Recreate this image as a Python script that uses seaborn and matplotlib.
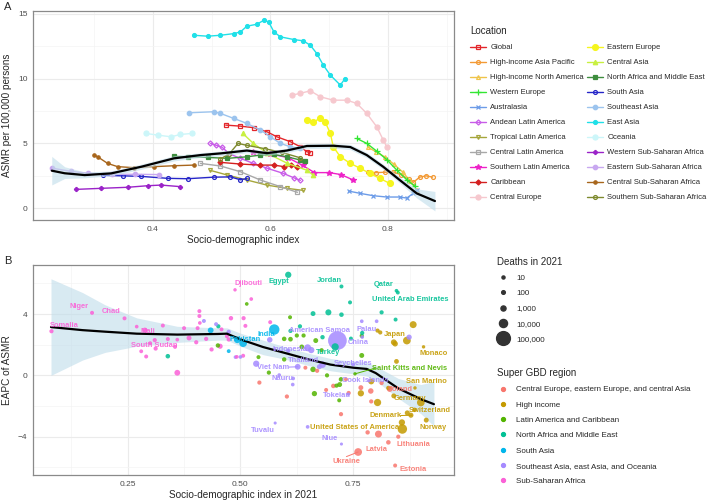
import numpy as np
import pandas as pd
import matplotlib
matplotlib.use("Agg")
import matplotlib.pyplot as plt
from matplotlib.lines import Line2D
import seaborn as sns

# ---------------- Panel A: SDI vs ASMR trajectories (1990-2021) ----------------
global_sdi = [0.524, 0.549, 0.572, 0.594, 0.611, 0.634, 0.651, 0.662, 0.668]
global_asmr = [6.41, 6.33, 6.21, 5.90, 5.51, 5.13, 4.74, 4.36, 4.28]
hiap_sdi = [0.766, 0.78, 0.795, 0.808, 0.822, 0.835, 0.843, 0.854, 0.865, 0.876]
hiap_asmr = [2.77, 2.75, 2.78, 2.80, 2.6, 2.25, 2.0, 2.4, 2.5, 2.4]
hina_sdi = [0.766, 0.78, 0.795, 0.81, 0.825, 0.838, 0.849]
hina_asmr = [4.7, 4.35, 3.95, 3.4, 2.8, 2.1, 1.4]
weur_sdi = [0.747, 0.764, 0.781, 0.798, 0.815, 0.832, 0.846]
weur_asmr = [5.38, 5.0, 4.4, 3.75, 2.95, 2.2, 1.7]
aus_sdi = [0.733, 0.753, 0.775, 0.798, 0.82, 0.832, 0.843, 0.849]
aus_asmr = [1.33, 1.15, 0.97, 0.87, 0.87, 0.79, 1.15, 1.4]
andean_sdi = [0.498, 0.508, 0.518, 0.53, 0.549, 0.571, 0.595, 0.622, 0.64, 0.651]
andean_asmr = [5.0, 4.85, 4.7, 4.2, 3.85, 3.46, 3.08, 2.69, 2.35, 2.15]
troplat_sdi = [0.498, 0.527, 0.56, 0.594, 0.628, 0.656]
troplat_asmr = [2.92, 2.56, 2.18, 1.79, 1.54, 1.38]
centlat_sdi = [0.481, 0.515, 0.549, 0.583, 0.617, 0.646]
centlat_asmr = [3.46, 3.26, 2.82, 2.18, 1.67, 1.23]
southlat_sdi = [0.57, 0.60, 0.63, 0.655, 0.675, 0.70, 0.72, 0.74]
southlat_asmr = [4.3, 4.2, 3.9, 3.3, 2.75, 2.75, 2.6, 2.2]
carib_sdi = [0.515, 0.549, 0.583, 0.606, 0.623, 0.635, 0.646]
carib_asmr = [3.54, 3.41, 3.33, 3.33, 3.21, 3.3, 3.15]
centeur_sdi = [0.637, 0.65, 0.668, 0.685, 0.707, 0.73, 0.747, 0.764, 0.781, 0.792, 0.798]
centeur_asmr = [8.72, 8.85, 9.05, 8.59, 8.33, 8.33, 8.08, 7.31, 6.28, 5.26, 4.74]
easteur_sdi = [0.662, 0.673, 0.685, 0.693, 0.702, 0.707, 0.719, 0.736, 0.753, 0.769, 0.786, 0.803]
easteur_asmr = [6.79, 6.67, 6.92, 6.67, 5.77, 4.74, 3.97, 3.46, 3.08, 2.69, 2.31, 1.92]
centasia_sdi = [0.553, 0.571, 0.595, 0.629, 0.663, 0.673]
centasia_asmr = [5.77, 5.0, 4.23, 3.46, 2.92, 2.54]
name_sdi = [0.436, 0.459, 0.493, 0.527, 0.56, 0.583, 0.606, 0.628, 0.651, 0.659]
name_asmr = [4.0, 3.97, 3.92, 3.85, 3.97, 4.10, 4.15, 3.97, 3.72, 3.64]
southasia_sdi = [0.315, 0.35, 0.38, 0.425, 0.459, 0.504, 0.532, 0.549, 0.56]
southasia_asmr = [2.54, 2.5, 2.46, 2.31, 2.28, 2.4, 2.42, 2.2, 2.3]
seasia_sdi = [0.462, 0.504, 0.515, 0.538, 0.56, 0.583, 0.60, 0.617, 0.634, 0.651]
seasia_asmr = [7.36, 7.44, 7.31, 6.92, 6.54, 6.03, 5.51, 5.0, 4.74, 4.62]
eastasia_sdi = [0.470, 0.493, 0.515, 0.538, 0.549, 0.560, 0.577, 0.589, 0.597, 0.606,
                0.617, 0.640, 0.656, 0.668, 0.679, 0.690, 0.702, 0.719, 0.727]
eastasia_asmr = [13.33, 13.26, 13.33, 13.46, 13.59, 14.03, 14.18, 14.49, 14.36, 13.59,
                 13.21, 13.0, 12.9, 12.56, 11.92, 11.03, 10.26, 9.49, 10.0]
oceania_sdi = [0.388, 0.408, 0.431, 0.447, 0.467]
oceania_asmr = [5.77, 5.64, 5.51, 5.69, 5.77]
wssa_sdi = [0.27, 0.312, 0.357, 0.391, 0.414, 0.447]
wssa_asmr = [1.46, 1.54, 1.62, 1.74, 1.79, 1.67]
essa_sdi = [0.228, 0.26, 0.29, 0.33, 0.37, 0.41]
essa_asmr = [3.1, 2.85, 2.7, 2.62, 2.62, 2.6]
cssa_sdi = [0.30, 0.306, 0.323, 0.34, 0.368, 0.402, 0.436, 0.47]
cssa_asmr = [4.10, 3.97, 3.46, 3.21, 3.13, 3.21, 3.28, 3.33]
sssa_sdi = [0.515, 0.53, 0.545, 0.56, 0.59, 0.62, 0.65]
sssa_asmr = [3.8, 4.2, 5.0, 4.85, 4.6, 4.3, 3.9]

# loess fit in panel A
fitA_sdi = [0.228, 0.25, 0.284, 0.329, 0.38, 0.436, 0.481, 0.515, 0.56, 0.594,
            0.628, 0.662, 0.707, 0.736, 0.764, 0.792, 0.82, 0.849, 0.88]
fitA_asmr = [2.9, 2.7, 2.56, 2.69, 3.2, 3.85, 4.10, 4.23, 4.45, 4.25,
             4.45, 4.8, 4.82, 4.72, 4.1, 3.2, 2.18, 1.15, 0.56]
fitA_lo = [1.8, 2.3, 2.35, 2.5, 3.0, 3.65, 3.92, 4.05, 4.28, 4.08,
           4.28, 4.62, 4.64, 4.52, 3.9, 3.0, 1.95, 0.8, -0.2]
fitA_hi = [4.0, 3.2, 2.8, 2.88, 3.4, 4.05, 4.28, 4.41, 4.62, 4.42,
           4.62, 4.98, 5.0, 4.92, 4.3, 3.4, 2.41, 1.5, 1.3]

# ---------------- Panel B: EAPC vs SDI 2021 by country ----------------
ss_sdi = [0.081, 0.171, 0.243, 0.27, 0.288, 0.328, 0.28, 0.291, 0.312, 0.339, 0.355, 0.36,
          0.375, 0.386, 0.402, 0.405, 0.409, 0.409, 0.41, 0.424, 0.436, 0.479, 0.488, 0.474,
          0.36, 0.455, 0.524, 0.566, 0.507, 0.511, 0.506, 0.492, 0.458, 0.47, 0.31, 0.3]
ss_eapc = [2.88, 4.08, 3.72, 3.18, 2.95, 3.25, 1.57, 1.23, 1.75, 2.37, 1.86, 2.33,
           3.08, 2.44, 2.16, 3.08, 3.87, 4.19, 3.42, 2.38, 1.69, 3.73, 5.58, 2.34,
           0.17, 1.9, 4.98, 3.47, 3.73, 3.23, 1.28, 1.21, 3.0, 2.55, 2.3, 2.1]
ss_deaths = [300, 200, 200, 100, 1000, 200, 150, 200, 300, 200, 200, 100,
             200, 800, 300, 200, 200, 200, 100, 300, 300, 400, 50, 300,
             2000, 1000, 100, 200, 300, 200, 200, 100, 200, 200, 300, 150]

sa_sdi = [0.575, 0.506, 0.493, 0.434, 0.474]
sa_eapc = [2.99, 2.1, 2.32, 2.94, 1.58]
sa_deaths = [30000, 8000, 4000, 2000, 150]

na_sdi = [0.606, 0.724, 0.846, 0.849, 0.743, 0.813, 0.661, 0.695, 0.724, 0.844, 0.632,
          0.71, 0.682, 0.77, 0.339, 0.451, 0.611, 0.745]
na_eapc = [6.56, 5.8, 5.52, 5.4, 4.76, 4.11, 4.03, 4.11, 3.96, 3.64, 3.2,
           1.86, 2.49, 2.77, 1.25, 3.2, 2.9, 2.4]
na_deaths = [3000, 200, 100, 150, 200, 300, 800, 2500, 500, 200, 300,
             6000, 400, 300, 500, 300, 300, 200]

la_sdi = [0.514, 0.61, 0.597, 0.667, 0.625, 0.636, 0.68, 0.54, 0.597, 0.563, 0.661, 0.692,
          0.723, 0.664, 0.72, 0.769, 0.45, 0.719, 0.769, 0.754, 0.713, 0.611, 0.64]
la_eapc = [4.66, 3.79, 2.38, 2.27, 2.6, 1.86, 1.64, 1.19, 1.04, 0.18, 0.39, 0.0,
           -0.26, -1.19, -0.6, 1.3, 1.95, -1.63, 2.58, 0.1, -0.67, 2.36, 2.6]
la_deaths = [100, 200, 500, 800, 300, 600, 300, 200, 400, 300, 1500, 300,
             500, 1200, 800, 800, 400, 200, 300, 50, 300, 600, 300]

se_sdi = [0.715, 0.419, 0.446, 0.474, 0.489, 0.565, 0.5, 0.535, 0.586, 0.627, 0.649, 0.657,
          0.675, 0.682, 0.769, 0.802, 0.874, 0.577, 0.724, 0.649, 0.617, 0.616, 0.739,
          0.75, 0.785, 0.77, 0.606]
se_eapc = [2.27, 3.55, 3.34, 2.84, 1.19, 2.32, 1.2, 0.76, 0.02, 0.56, 1.8, 1.65,
           0.56, 0.7, 3.53, 3.53, 2.49, -3.11, -4.48, -3.36, -0.2, -0.6, -1.23,
           0.7, -0.35, 2.5, 1.6]
se_deaths = [350000, 200, 200, 300, 100, 1500, 100, 3000, 100, 2000, 5000, 3000,
             800, 4000, 100, 100, 1200, 10, 10, 100, 100, 100, 30,
             100, 50, 100, 300]

hi_sdi = [0.883, 0.804, 0.81, 0.869, 0.84, 0.906, 0.79, 0.804, 0.767, 0.84, 0.9, 0.878,
          0.858, 0.859, 0.912, 0.887, 0.87, 0.886, 0.846, 0.828, 0.843]
hi_eapc = [3.31, 2.92, 2.8, 2.27, 2.16, 1.86, -0.4, -1.77, -1.17, -1.34, -1.77, -2.6,
           -3.07, -3.5, -2.92, -0.82, -2.45, -2.25, 0.91, -0.82, 2.06]
hi_deaths = [5000, 300, 300, 8000, 2000, 50, 2000, 6000, 3000, 800, 8000, 1000,
             3000, 20000, 800, 50, 1000, 500, 700, 400, 1500]

ce_sdi = [0.723, 0.706, 0.734, 0.767, 0.789, 0.806, 0.782, 0.828, 0.85, 0.761, 0.843,
          0.603, 0.542, 0.644, 0.67, 0.69, 0.74, 0.831, 0.79, 0.813]
ce_eapc = [-2.53, -0.69, -0.26, -0.8, -1.02, -3.83, -3.72, -4.37, -4.0, -5.0, -5.88,
           -1.38, -0.47, 0.5, 0.3, -0.95, -1.15, -0.89, -1.7, -0.5]
ce_deaths = [300, 500, 200, 800, 1500, 5000, 400, 500, 300, 8000, 200,
             300, 300, 200, 300, 200, 300, 2000, 300, 300]

fitB_sdi = [0.08, 0.15, 0.2, 0.27, 0.36, 0.45, 0.47, 0.5, 0.55, 0.6, 0.65, 0.7, 0.75,
            0.78, 0.8, 0.85, 0.9, 0.929]
fitB_eapc = [3.15, 2.95, 2.85, 2.72, 2.66, 2.7, 2.72, 2.35, 1.85, 1.45, 1.05, 0.7, 0.5,
             0.42, 0.15, -0.85, -1.55, -1.88]
fitB_lo = [0.0, 1.0, 1.5, 1.9, 2.15, 2.3, 2.3, 1.9, 1.35, 1.05, 0.65, 0.3, 0.1,
           -0.05, -0.35, -1.5, -2.5, -3.3]
fitB_hi = [6.3, 5.4, 4.6, 3.75, 3.2, 3.1, 3.1, 2.75, 2.3, 1.85, 1.45, 1.1, 0.9,
           0.85, 0.6, -0.2, -0.6, -0.4]

region_names = ["Central Europe, eastern Europe, and central Asia", "High income",
                "Latin America and Caribbean", "North Africa and Middle East", "South Asia",
                "Southeast Asia, east Asia, and Oceania", "Sub-Saharan Africa"]
region_colors = ["#F8766D", "#C49A00", "#53B400", "#00C094", "#00B6EB", "#A58AFF", "#FB61D7"]

# label text, label position, region index, optional pointer target
country_labels = [
    ("Somalia", 0.109, 3.25, 6, None), ("Niger", 0.143, 4.49, 6, None),
    ("Chad", 0.213, 4.16, 6, None), ("Mali", 0.294, 2.86, 6, None),
    ("South Sudan", 0.309, 1.95, 6, None), ("Djibouti", 0.517, 5.97, 6, None),
    ("Egypt", 0.586, 6.12, 3, None), ("Jordan", 0.697, 6.18, 3, None),
    ("Qatar", 0.817, 5.94, 3, None), ("United Arab Emirates", 0.876, 4.97, 3, None),
    ("India", 0.557, 2.69, 4, None), ("Pakistan", 0.51, 2.32, 4, None),
    ("American Samoa", 0.676, 2.93, 5, None), ("Palau", 0.78, 3.02, 5, None),
    ("Japan", 0.842, 2.69, 1, None), ("China", 0.761, 2.15, 5, None),
    ("Indonesia", 0.609, 1.71, 5, None), ("Turkey", 0.694, 1.5, 3, None),
    ("Monaco", 0.929, 1.41, 1, None), ("Thailand", 0.639, 0.95, 5, None),
    ("Seychelles", 0.75, 0.76, 5, None), ("Viet Nam", 0.572, 0.54, 5, (0.627, 0.56)),
    ("Saint Kitts and Nevis", 0.874, 0.48, 2, (0.754, 0.1)),
    ("Nauru", 0.594, -0.22, 5, None), ("Cook Islands", 0.776, -0.33, 5, None),
    ("San Marino", 0.913, -0.39, 1, None), ("Tokelau", 0.714, -1.3, 5, None),
    ("Poland", 0.854, -0.89, 0, None), ("Germany", 0.876, -1.54, 1, None),
    ("Switzerland", 0.92, -2.3, 1, None), ("Denmark", 0.822, -2.62, 1, (0.88, -2.6)),
    ("United States of America", 0.754, -3.38, 1, None), ("Norway", 0.928, -3.38, 1, None),
    ("Tuvalu", 0.55, -3.58, 5, None), ("Niue", 0.698, -4.14, 5, None),
    ("Latvia", 0.802, -4.84, 0, None), ("Lithuania", 0.883, -4.51, 0, None),
    ("Ukraine", 0.735, -5.6, 0, (0.761, -5.0)), ("Estonia", 0.883, -6.14, 0, None),
]

death_breaks = [10, 100, 1000, 10000, 100000]

sns.set_style("white")
plt.rcParams["font.family"] = ["Liberation Sans", "DejaVu Sans"]


def pt_size(d):
    return 4 + 0.30 * np.sqrt(d)


def style_bw(ax, xmaj, xmin, ymaj, ymin):
    ax.set_xticks(xmaj)
    ax.set_xticks(xmin, minor=True)
    ax.set_yticks(ymaj)
    ax.set_yticks(ymin, minor=True)
    ax.grid(True, which="major", color="#EBEBEB", linewidth=0.8, zorder=0)
    ax.grid(True, which="minor", color="#F4F4F4", linewidth=0.5, zorder=0)
    ax.set_axisbelow(True)
    for s in ax.spines.values():
        s.set_color("#8A8A8A")
        s.set_linewidth(0.9)
    ax.tick_params(axis="both", which="major", length=2.5, color="#555555",
                   labelsize=6, labelcolor="#4D4D4D", pad=1.5)
    ax.tick_params(axis="both", which="minor", length=0)


fig = plt.figure(figsize=(7.09, 5.0), dpi=100)

# ------------------------------ Panel A ------------------------------
axA = fig.add_axes([0.0465, 0.56, 0.5935, 0.418])
series = [
    ("Global", global_sdi, global_asmr, "#E3262B", "s", True, 2.6),
    ("High-income Asia Pacific", hiap_sdi, hiap_asmr, "#F39A35", "o", True, 2.8),
    ("High-income North America", hina_sdi, hina_asmr, "#EFC44A", "^", True, 2.8),
    ("Western Europe", weur_sdi, weur_asmr, "#33E633", "+", False, 4),
    ("Australasia", aus_sdi, aus_asmr, "#6D9CE8", "x", False, 3),
    ("Andean Latin America", andean_sdi, andean_asmr, "#C85CE8", "D", True, 2.6),
    ("Tropical Latin America", troplat_sdi, troplat_asmr, "#A6A63C", "v", True, 2.8),
    ("Central Latin America", centlat_sdi, centlat_asmr, "#A8A8A8", "s", True, 2.6),
    ("Southern Latin America", southlat_sdi, southlat_asmr, "#EE22C8", "*", False, 4),
    ("Caribbean", carib_sdi, carib_asmr, "#D42020", "D", False, 2.6),
    ("Central Europe", centeur_sdi, centeur_asmr, "#F6C8CE", "o", False, 3.6),
    ("Eastern Europe", easteur_sdi, easteur_asmr, "#F5F51E", "o", False, 4.2),
    ("Central Asia", centasia_sdi, centasia_asmr, "#C8F040", "^", False, 3.2),
    ("North Africa and Middle East", name_sdi, name_asmr, "#3E8E3E", "s", False, 2.6),
    ("South Asia", southasia_sdi, southasia_asmr, "#2626C8", "o", True, 2.8),
    ("Southeast Asia", seasia_sdi, seasia_asmr, "#9CC4EE", "o", False, 3.2),
    ("East Asia", eastasia_sdi, eastasia_asmr, "#20E0E8", "o", False, 2.8),
    ("Oceania", oceania_sdi, oceania_asmr, "#CCF6F9", "o", False, 3.6),
    ("Western Sub-Saharan Africa", wssa_sdi, wssa_asmr, "#9A22C8", "P", False, 2.8),
    ("Eastern Sub-Saharan Africa", essa_sdi, essa_asmr, "#C8A8F0", "o", False, 3.2),
    ("Central Sub-Saharan Africa", cssa_sdi, cssa_asmr, "#A8661C", "o", False, 2.4),
    ("Southern Sub-Saharan Africa", sssa_sdi, sssa_asmr, "#7E8A2E", "o", True, 2.8),
]

handlesA = []
for name, xs, ys, col, mk, hollow, ms in series:
    df = pd.DataFrame({"sdi": xs, "asmr": ys})
    kw = dict(color=col, marker=mk, markersize=ms, linewidth=1.0,
              markeredgecolor=col, markerfacecolor="none" if hollow else col,
              markeredgewidth=0.9)
    sns.lineplot(data=df, x="sdi", y="asmr", ax=axA, sort=False, estimator=None, **kw)
    handlesA.append(Line2D([], [], **kw))

axA.fill_between(fitA_sdi, fitA_lo, fitA_hi, color="#BFDCEA", alpha=0.6, linewidth=0, zorder=3)
sns.lineplot(x=fitA_sdi, y=fitA_asmr, ax=axA, color="black", linewidth=1.6, sort=False,
             estimator=None, zorder=4)
axA.set_xlim(0.196, 0.912)
axA.set_ylim(-0.9, 15.2)
style_bw(axA, [0.4, 0.6, 0.8], [0.3, 0.5, 0.7, 0.9], [0, 5, 10, 15], [2.5, 7.5, 12.5])
axA.set_xlabel("Socio-demographic index", fontsize=7.2, labelpad=2)
axA.set_ylabel("ASMR per 100,000 persons", fontsize=7.2, labelpad=4)

fig.legend(handlesA, [s[0] for s in series], ncol=2, loc="upper left",
           bbox_to_anchor=(0.656, 0.958), frameon=False, fontsize=5.5, title="Location",
           title_fontsize=7, alignment="left", handlelength=2.0, columnspacing=0.45,
           labelspacing=1.0, handletextpad=0.6, borderpad=0.2)

# ------------------------------ Panel B ------------------------------
axB = fig.add_axes([0.0465, 0.05, 0.5935, 0.42])
groups = [(ce_sdi, ce_eapc, ce_deaths), (hi_sdi, hi_eapc, hi_deaths),
          (la_sdi, la_eapc, la_deaths), (na_sdi, na_eapc, na_deaths),
          (sa_sdi, sa_eapc, sa_deaths), (se_sdi, se_eapc, se_deaths),
          (ss_sdi, ss_eapc, ss_deaths)]
frames = []
for name, (xs, ys, ds) in zip(region_names, groups):
    frames.append(pd.DataFrame({"sdi": xs, "eapc": ys, "deaths": ds, "region": name}))
dfB = pd.concat(frames, ignore_index=True)
dfB["msize"] = pt_size(dfB["deaths"])
dfB = dfB.sort_values("deaths", ascending=False)

axB.fill_between(fitB_sdi, fitB_lo, fitB_hi, color="#BFDCEA", alpha=0.6, linewidth=0, zorder=1)
sns.scatterplot(data=dfB, x="sdi", y="eapc", hue="region", hue_order=region_names,
                palette=region_colors, size="msize", sizes=(dfB["msize"].min(), dfB["msize"].max()),
                size_norm=(dfB["msize"].min(), dfB["msize"].max()),
                linewidth=0, alpha=0.85, legend=False, ax=axB, zorder=2)
sns.lineplot(x=fitB_sdi, y=fitB_eapc, ax=axB, color="black", linewidth=1.6, sort=False,
             estimator=None, zorder=4)

for text, lx, ly, ri, target in country_labels:
    col = region_colors[ri]
    axB.text(lx, ly, text, color=col, fontsize=5.4, fontweight="bold", ha="center",
             va="center", zorder=5, alpha=0.9)
    if target is not None:
        if text == "Ukraine":
            start = (lx, ly + 0.3)
        elif text == "Denmark":
            start = (lx + 0.033, ly)
        elif text == "Viet Nam":
            start = (lx + 0.035, ly)
        else:
            start = (lx - 0.074, ly)
        axB.plot([start[0], target[0]], [start[1], target[1]], color=col, linewidth=0.7, zorder=5)

axB.set_xlim(0.04, 0.973)
axB.set_ylim(-6.5, 7.2)
style_bw(axB, [0.25, 0.5, 0.75], [0.125, 0.375, 0.625, 0.875], [-4, 0, 4], [-6, -2, 2, 6])
axB.set_xlabel("Socio-demographic index in 2021", fontsize=7.2, labelpad=1.5)
axB.set_ylabel("EAPC of ASMR", fontsize=7.2, labelpad=4)

size_handles = [Line2D([], [], linestyle="none", marker="o", color="#333333",
                       markersize=np.sqrt(pt_size(d))) for d in death_breaks]
fig.legend(size_handles, ["10", "100", "1,000", "10,000", "100,000"], loc="upper left",
           bbox_to_anchor=(0.693, 0.498), frameon=False, fontsize=5.8, title="Deaths in 2021",
           title_fontsize=7, alignment="left", handlelength=1.6, labelspacing=0.95,
           handletextpad=0.8, borderpad=0.2)
reg_handles = [Line2D([], [], linestyle="none", marker="o", color=c, markersize=2.8)
               for c in region_colors]
fig.legend(reg_handles, region_names, loc="upper left", bbox_to_anchor=(0.693, 0.275),
           frameon=False, fontsize=5.8, title="Super GBD region", title_fontsize=7,
           alignment="left", handlelength=1.6, labelspacing=0.95, handletextpad=0.8,
           borderpad=0.2)

fig.text(0.006, 0.995, "A", fontsize=8, va="top")
fig.text(0.006, 0.488, "B", fontsize=8, va="top")

fig.savefig("out.png", dpi=100)
